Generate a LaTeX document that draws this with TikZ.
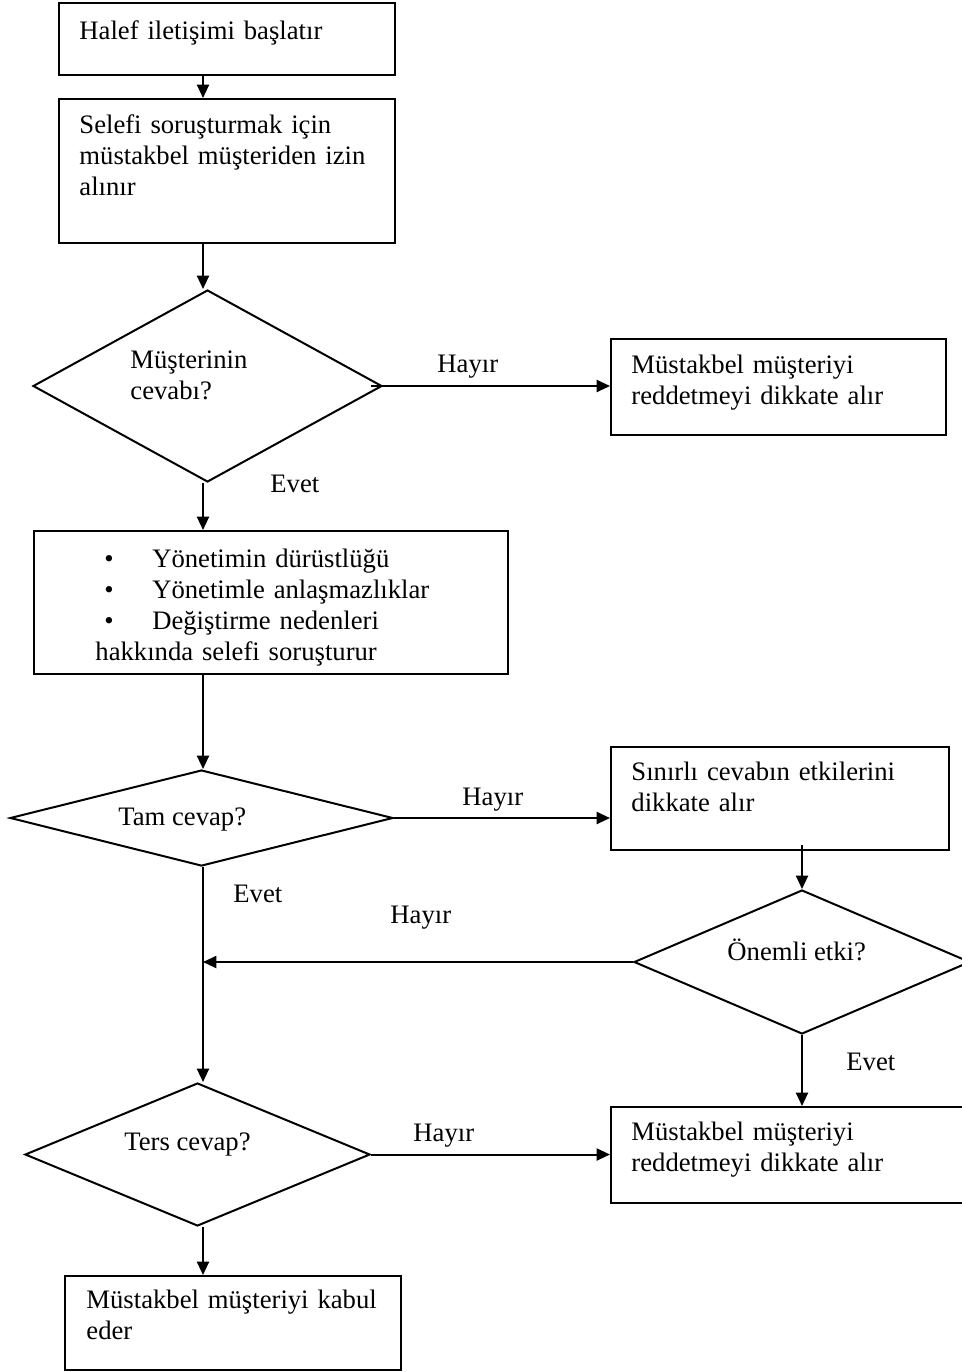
\documentclass[tikz,border=0pt]{standalone}
\usepackage{fontspec}
\setmainfont{Liberation Serif}
\usetikzlibrary{shapes.geometric,arrows.meta,calc}
\begin{document}
\begin{tikzpicture}[x=0.45pt,y=-0.45pt,
  every node/.style={font=\fontsize{12}{14}\selectfont},
  box/.style={draw, line width=0.9pt, rectangle, inner sep=0pt, anchor=north west},
  dia/.style={draw, line width=0.9pt, diamond, inner sep=0pt, anchor=center},
  txt/.style={inner sep=0pt, anchor=base west, align=left, text width=175pt},
  lbl/.style={inner sep=0pt, anchor=base west},
  arr/.style={line width=0.9pt, -{Triangle[length=6pt,width=5.4pt]}}]
\useasboundingbox (0,0) rectangle (962,1372);
\clip (0,0) rectangle (962,1372);
\coordinate (spine) at (203,0);
% boxes
\node[box, minimum width=151.2pt, minimum height=32.4pt] (b1) at (58,2) {};
\node[box, minimum width=151.2pt, minimum height=64.8pt] (b2) at (58,98) {};
\node[box, minimum width=150.75pt, minimum height=43.2pt] (b3) at (610,338) {};
\node[box, minimum width=213.3pt, minimum height=64.35pt] (b4) at (33,530) {};
\node[box, minimum width=152.1pt, minimum height=46.35pt] (b5) at (610,746) {};
\node[box, minimum width=164.25pt, minimum height=43.2pt] (b6) at (610,1106) {};
\node[box, minimum width=151.2pt, minimum height=42.3pt] (b7) at (64,1275) {};
% diamonds
\node[dia, minimum width=157.05pt, minimum height=86.4pt] (d1) at (207.5,386) {};
\node[dia, minimum width=172.35pt, minimum height=43.2pt] (d2) at (201.5,818) {};
\node[dia, minimum width=151.2pt, minimum height=64.8pt] (d3) at (802,962) {};
\node[dia, minimum width=155.25pt, minimum height=64.35pt] (d4) at (197.5,1154.5) {};
% texts
\node[txt] (t1) at (79,39) {Halef iletişimi başlatır};
\node[txt] (t2) at (79,133) {Selefi soruşturmak için\\müstakbel müşteriden izin\\alınır};
\node[txt] (t3) at (631,373) {Müstakbel müşteriyi\\reddetmeyi dikkate alır};
\node[txt] (t4) at (95,567) {\hspace*{4pt}\makebox[21.6pt][l]{•}Yönetimin dürüstlüğü\\\hspace*{4pt}\makebox[21.6pt][l]{•}Yönetimle anlaşmazlıklar\\\hspace*{4pt}\makebox[21.6pt][l]{•}Değiştirme nedenleri\\hakkında selefi soruşturur};
\node[txt] (t5) at (631,780) {Sınırlı cevabın etkilerini\\dikkate alır};
\node[txt] (t6) at (631,1140) {Müstakbel müşteriyi\\reddetmeyi dikkate alır};
\node[txt] (t7) at (86,1308) {Müstakbel müşteriyi kabul\\eder};
\node[txt] (td1) at (130,368) {Müşterinin\\cevabı?};
\node[lbl] (td2) at (118,825) {Tam cevap?};
\node[lbl] (td3) at (727,960) {Önemli etki?};
\node[lbl] (td4) at (124,1150) {Ters cevap?};
% edge labels
\node[lbl] (l1) at (437,372) {Hayır};
\node[lbl] (l2) at (270,492) {Evet};
\node[lbl] (l3) at (462,805) {Hayır};
\node[lbl] (l4) at (233,902) {Evet};
\node[lbl] (l5) at (390,923) {Hayır};
\node[lbl] (l6) at (846,1070) {Evet};
\node[lbl] (l7) at (413,1141) {Hayır};
% connectors
\draw[arr] (b1.south -| spine) -- (b2.north -| spine);
\draw[arr] (b2.south -| spine) -- (d1.north -| spine);
\draw[arr] ($(d1.east)+(-12,0)$) -- (d1.east -| b3.west);
\draw[arr] (d1.south -| spine) -- (b4.north -| spine);
\draw[arr] (b4.south -| spine) -- (d2.north -| spine);
\draw[arr] (d2.east) -- (d2.east -| b5.west);
\draw[arr] ($(b5.south -| d3.north)+(0,-6)$) -- (d3.north);
\draw[arr] (d3.west) -- (d3.west -| spine);
\draw[arr] (d2.south -| spine) -- (d4.north -| spine);
\draw[arr] (d3.south) -- (d3.south |- b6.north);
\draw[arr] (d4.east) -- (d4.east -| b6.west);
\draw[arr] (d4.south -| spine) -- (b7.north -| spine);
\end{tikzpicture}
\end{document}
